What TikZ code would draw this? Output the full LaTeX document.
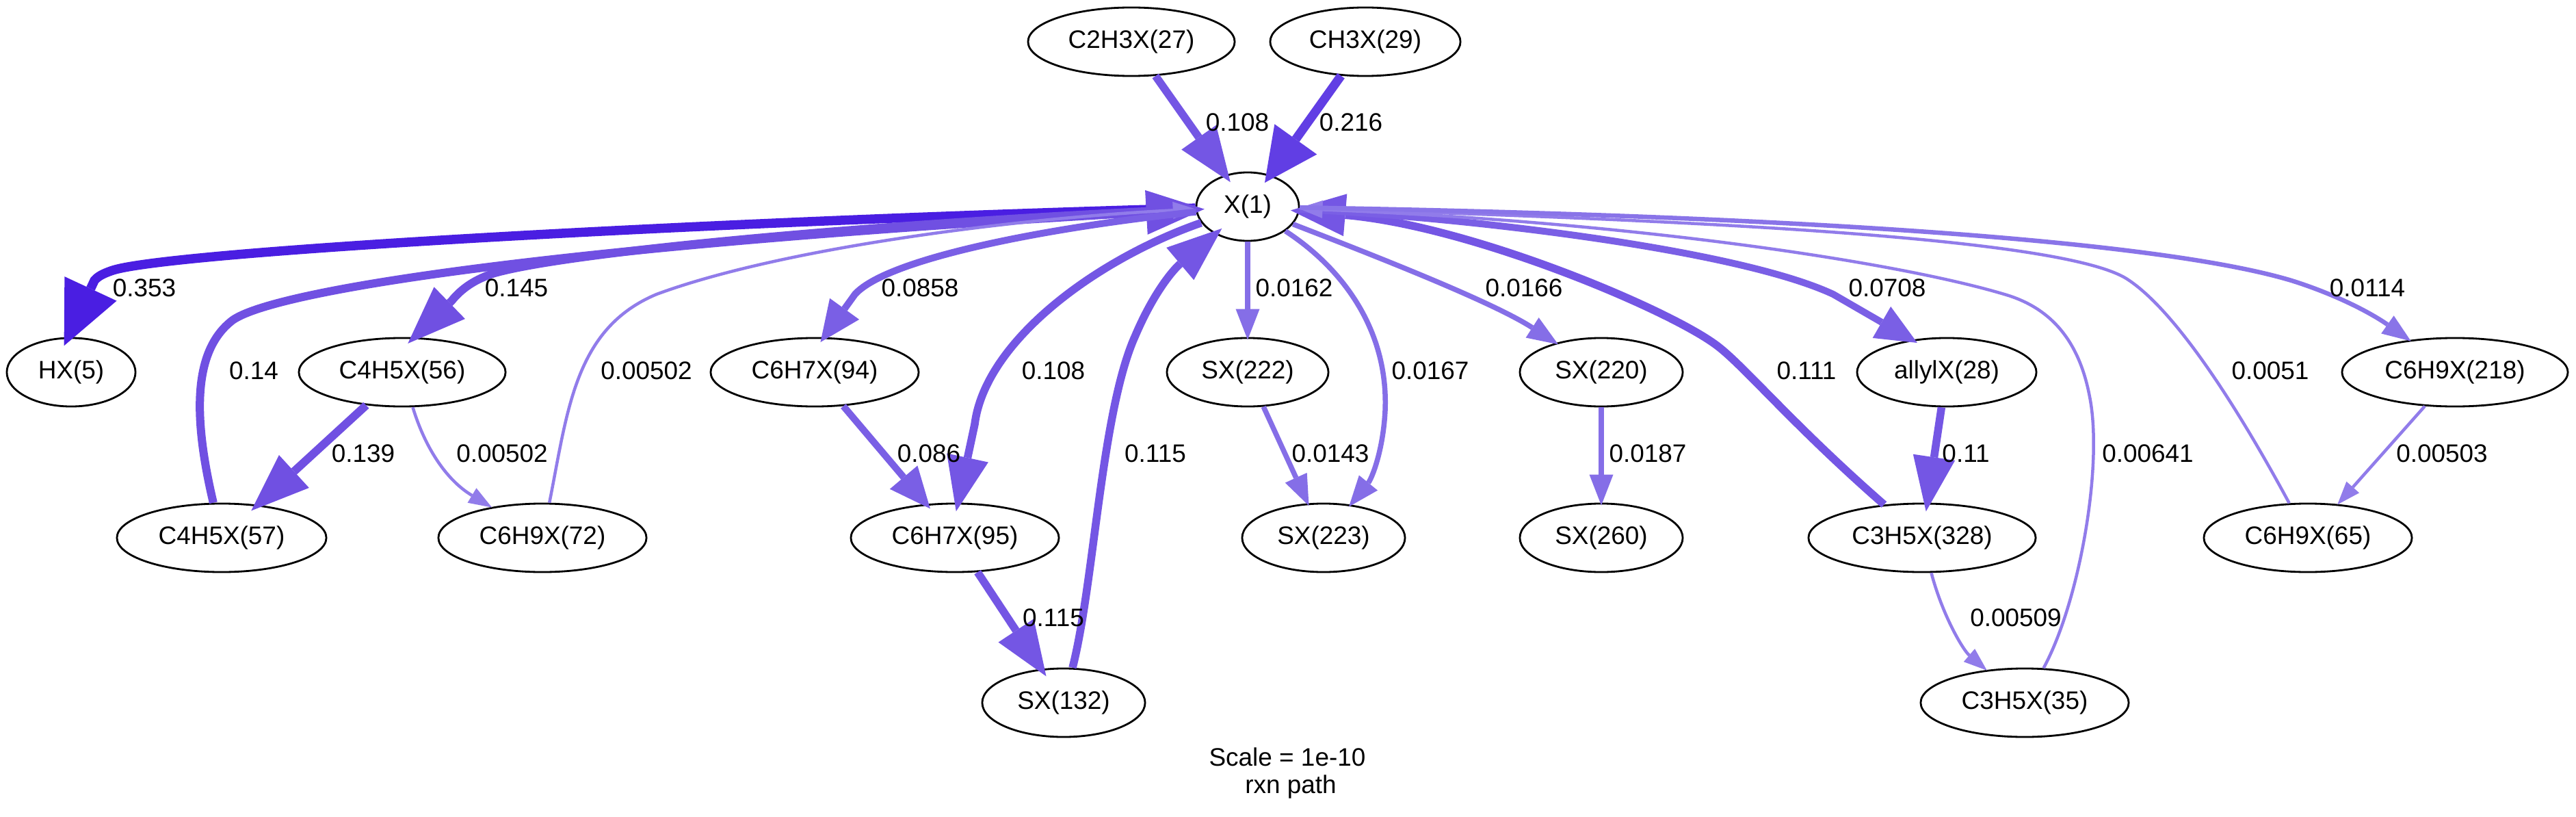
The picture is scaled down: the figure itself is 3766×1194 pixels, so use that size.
\documentclass[tikz,border=0pt]{standalone}
\usepackage{fontspec}
\setmainfont{Liberation Sans}
\usetikzlibrary{arrows.meta,shapes.geometric}
\definecolor{c353}{RGB}{74,30,226}
\definecolor{c216}{RGB}{97,62,228}
\definecolor{c14}{RGB}{112,80,226}
\definecolor{c11}{RGB}{116,86,228}
\definecolor{c08}{RGB}{122,95,229}
\definecolor{c02}{RGB}{133,110,231}
\definecolor{c01}{RGB}{137,116,232}
\definecolor{c005}{RGB}{145,124,234}
\tikzset{
  sp/.style={ellipse, draw=black, line width=0.8pt, inner sep=0pt, minimum height=1cm, font=\fontsize{10.5}{12}\selectfont},
  lb/.style={inner sep=0pt, font=\fontsize{10.5}{12}\selectfont},
  e353/.style={draw=c353, line width=0.135cm, shorten >=-0.14cm, -{Triangle[length=0.92cm,width=0.84cm,line width=0pt]}},
  e216/.style={draw=c216, line width=0.13cm, shorten >=-0.14cm, -{Triangle[length=0.78cm,width=0.76cm,line width=0pt]}},
  e14/.style={draw=c14, line width=0.12cm, shorten >=-0.13cm, -{Triangle[length=0.85cm,width=0.65cm,line width=0pt]}},
  e11/.style={draw=c11, line width=0.115cm, shorten >=-0.13cm, -{Triangle[length=0.8cm,width=0.62cm,line width=0pt]}},
  e08/.style={draw=c08, line width=0.1cm, shorten >=-0.09cm, -{Triangle[length=0.6cm,width=0.53cm,line width=0pt]}},
  e02/.style={draw=c02, line width=0.075cm, shorten >=-0.04cm, -{Triangle[length=0.45cm,width=0.35cm,line width=0pt]}},
  e01/.style={draw=c01, line width=0.065cm, shorten >=-0.03cm, -{Triangle[length=0.42cm,width=0.32cm,line width=0pt]}},
  e005/.style={draw=c005, line width=0.045cm, shorten >=-0.01cm, -{Triangle[length=0.34cm,width=0.25cm,line width=0pt]}},
}
\begin{document}
\begin{tikzpicture}[x=0.01cm,y=-0.01cm]
\fill[white] (0,0) rectangle (3766,1194);
\useasboundingbox (0,0) rectangle (3766,1194);
% nodes
\node[sp, minimum width=3.02cm] (c27) at (1654,61) {C2H3X(27)};
\node[sp, minimum width=2.78cm] (c29) at (1996,61) {CH3X(29)};
\node[sp, minimum width=1.50cm] (x1) at (1824,302) {X(1)};
\node[sp, minimum width=1.88cm] (hx) at (104,544) {HX(5)};
\node[sp, minimum width=3.02cm] (c56) at (588,544) {C4H5X(56)};
\node[sp, minimum width=3.04cm] (c94) at (1191,544) {C6H7X(94)};
\node[sp, minimum width=2.36cm] (s222) at (1824,544) {SX(222)};
\node[sp, minimum width=2.38cm] (s220) at (2341,544) {SX(220)};
\node[sp, minimum width=2.62cm] (al28) at (2846,544) {allylX(28)};
\node[sp, minimum width=3.30cm] (c218) at (3589,544) {C6H9X(218)};
\node[sp, minimum width=3.06cm] (c57) at (324,786) {C4H5X(57)};
\node[sp, minimum width=3.04cm] (c72) at (793,786) {C6H9X(72)};
\node[sp, minimum width=3.04cm] (c95) at (1396,786) {C6H7X(95)};
\node[sp, minimum width=2.38cm] (s223) at (1935,786) {SX(223)};
\node[sp, minimum width=2.38cm] (s260) at (2341,786) {SX(260)};
\node[sp, minimum width=3.32cm] (c328) at (2810,786) {C3H5X(328)};
\node[sp, minimum width=3.04cm] (c65) at (3374,786) {C6H9X(65)};
\node[sp, minimum width=2.38cm] (s132) at (1555,1027) {SX(132)};
\node[sp, minimum width=3.04cm] (c35) at (2960,1027) {C3H5X(35)};
% edges
\draw[e11] (c27) -- (x1);
\draw[e216] (c29) -- (x1);
\draw[e353] (x1) .. controls (1000,325) and (250,368) .. (165,395) .. controls (150,400) and (143,404) .. (138,410) -- (hx.95);
\draw[e14] (x1) .. controls (1250,328) and (820,370) .. (720,400) .. controls (690,410) and (672,425) .. (660,440) -- (c56.71);
\draw[e14] (c57) .. controls (280,600) and (285,510) .. (340,468) .. controls (400,425) and (800,360) .. (x1);
\draw[e005] (c72) .. controls (830,600) and (840,480) .. (960,430) .. controls (1150,360) and (1500,318) .. (x1);
\draw[e08] (x1) .. controls (1550,330) and (1300,375) .. (1250,430) -- (c94.75);
\draw[e11] (x1) .. controls (1600,380) and (1440,500) .. (1425,620) -- (c95.85);
\draw[e11] (s132) .. controls (1600,850) and (1610,600) .. (1660,490) .. controls (1690,420) and (1720,390) .. (x1);
\draw[e02] (x1) -- (s222);
\draw[e02] (x1) .. controls (1960,390) and (2030,480) .. (2025,600) .. controls (2022,660) and (2005,700) .. (s223);
\draw[e02] (x1) .. controls (2000,370) and (2180,440) .. (s220);
\draw[e11] (c328) .. controls (2620,620) and (2550,535) .. (2510,505) .. controls (2440,452) and (2150,330) .. (x1);
\draw[e08] (x1) .. controls (2150,318) and (2540,365) .. (2680,430) -- (al28.137);
\draw[e005] (c35) .. controls (3040,880) and (3075,680) .. (3055,580) .. controls (3040,500) and (3000,450) .. (2930,430) .. controls (2780,385) and (2400,325) .. (x1);
\draw[e005] (c65) .. controls (3290,630) and (3190,460) .. (3110,408) .. controls (3010,343) and (2400,320) .. (x1);
\draw[e01] (x1) .. controls (2600,315) and (3150,350) .. (3350,410) .. controls (3420,432) and (3470,460) .. (c218);
\draw[e14] (c56) -- (c57);
\draw[e005] (c56) .. controls (620,650) and (650,700) .. (c72);
\draw[e08] (c94) -- (c95);
\draw[e11] (c95) -- (s132);
\draw[e02] (s222) -- (s223);
\draw[e02] (s220) -- (s260);
\draw[e11] (al28) -- (c328);
\draw[e005] (c328) .. controls (2840,900) and (2870,950) .. (c35);
\draw[e005] (c218) -- (c65);
% labels
\node[lb] (l1) at (1809,179) {0.108};
\node[lb] (l2) at (1975,179) {0.216};
\node[lb] (l3) at (211,421) {0.353};
\node[lb] (l4) at (755,421) {0.145};
\node[lb] (l5) at (371,542) {0.14};
\node[lb] (l6) at (945,542) {0.00502};
\node[lb] (l7) at (1345,421) {0.0858};
\node[lb] (l8) at (1892,421) {0.0162};
\node[lb] (l9) at (2228,421) {0.0166};
\node[lb] (l10) at (1540,542) {0.108};
\node[lb] (l11) at (2091,542) {0.0167};
\node[lb] (l12) at (2759,421) {0.0708};
\node[lb] (l13) at (3461,421) {0.0114};
\node[lb] (l14) at (2641,542) {0.111};
\node[lb] (l15) at (3319,542) {0.0051};
\node[lb] (l16) at (531,663) {0.139};
\node[lb] (l17) at (734,663) {0.00502};
\node[lb] (l18) at (1358,663) {0.086};
\node[lb] (l19) at (1689,663) {0.115};
\node[lb] (l20) at (1945,663) {0.0143};
\node[lb] (l21) at (2409,663) {0.0187};
\node[lb] (l22) at (1540,903) {0.115};
\node[lb] (l23) at (2874,663) {0.11};
\node[lb] (l24) at (3140,663) {0.00641};
\node[lb] (l25) at (3570,663) {0.00503};
\node[lb] (l26) at (2947,903) {0.00509};
\node[lb] (t1) at (1882,1106) {Scale = 1e-10};
\node[lb] (t2) at (1887,1150) {rxn path};
\end{tikzpicture}
\end{document}
